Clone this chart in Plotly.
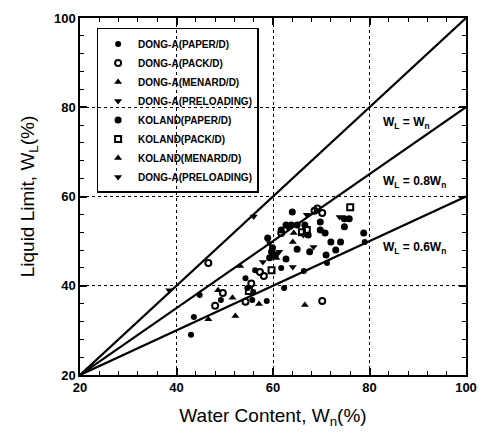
import plotly.graph_objects as go

# ---- data ----
series_names = [
    "DONG-A(PAPER/D)", "DONG-A(PACK/D)", "DONG-A(MENARD/D)", "DONG-A(PRELOADING)",
    "KOLAND(PAPER/D)", "KOLAND(PACK/D)", "KOLAND(MENARD/D)", "DONG-A(PRELOADING)",
]

dong_paper_x = [44.8, 49.2, 43.6, 43.0, 54.3, 54.7, 55.9, 55.7, 58.7, 56.3, 62.3, 66.4, 71.2, 79.0, 61.7]
dong_paper_y = [37.9, 36.8, 33.0, 29.0, 41.7, 39.5, 38.6, 36.8, 36.6, 43.5, 39.5, 43.3, 45.1, 49.8, 44.0]

dong_pack_x = [46.6, 49.6, 48.0, 54.3, 57.3, 58.1, 61.7, 68.6, 69.2, 70.2, 70.2, 55.5]
dong_pack_y = [45.1, 38.4, 35.5, 36.4, 43.1, 42.2, 51.8, 56.8, 57.3, 56.3, 36.6, 40.5]

dong_menard_x = [48.6, 51.6, 46.6, 52.2, 57.1]
dong_menard_y = [39.0, 37.3, 32.5, 33.2, 35.9]

dong_pre_x = [56.0, 38.5, 59.3, 57.9, 64.1]
dong_pre_y = [55.5, 39.0, 49.6, 45.3, 44.2]

koland_paper_x = [58.9, 59.9, 59.7, 60.5, 59.3, 61.7, 62.7, 63.8, 64.0, 65.0, 62.7, 65.0,
                  66.6, 67.3, 69.8, 69.8, 70.8, 67.6, 71.0, 72.0, 73.0, 74.0, 74.8, 75.8,
                  74.8, 78.8, 63.3]
koland_paper_y = [50.7, 48.5, 47.6, 46.9, 46.3, 52.5, 53.6, 53.6, 56.5, 48.2, 46.0, 53.6,
                  53.6, 51.4, 54.3, 52.5, 51.8, 47.6, 46.9, 49.8, 48.0, 49.8, 55.0, 55.0,
                  53.2, 51.8, 53.2]

koland_pack_x = [59.7, 66.0, 67.0, 76.0, 55.0]
koland_pack_y = [43.5, 52.0, 52.5, 57.6, 38.8]

koland_menard_x = [60.7, 64.3, 64.1, 66.6, 53.2]
koland_menard_y = [46.2, 51.8, 49.8, 35.7, 44.4]

dong_pre2_x = [67.0, 66.3, 68.4, 73.8, 61.3]
dong_pre2_y = [55.9, 51.4, 48.7, 55.4, 47.6]

# reference lines
line_x = [20, 100]
line_wn_y = [20, 100]
line_08_y = [20, 80]
line_06_y = [20, 60]

x_ticks = [20, 40, 60, 80, 100]
y_ticks = [20, 40, 60, 80, 100]

# ---- figure ----
fig = go.Figure()

for ly in (line_wn_y, line_08_y, line_06_y):
    fig.add_trace(go.Scatter(x=line_x, y=ly, mode="lines",
                             line=dict(color="black", width=2.2), showlegend=False,
                             hoverinfo="skip"))

marker_styles = [
    dict(symbol="circle", size=6, color="black"),
    dict(symbol="circle-open", size=6, color="black", line=dict(width=2, color="black")),
    dict(symbol="triangle-up", size=7, color="black"),
    dict(symbol="triangle-down", size=7, color="black"),
    dict(symbol="circle", size=7, color="black"),
    dict(symbol="square-open", size=6, color="black", line=dict(width=2, color="black")),
    dict(symbol="triangle-up", size=7, color="black"),
    dict(symbol="triangle-down", size=7, color="black"),
]
series_xy = [
    (dong_paper_x, dong_paper_y), (dong_pack_x, dong_pack_y),
    (dong_menard_x, dong_menard_y), (dong_pre_x, dong_pre_y),
    (koland_paper_x, koland_paper_y), (koland_pack_x, koland_pack_y),
    (koland_menard_x, koland_menard_y), (dong_pre2_x, dong_pre2_y),
]
for name, (xs, ys), mk in zip(series_names, series_xy, marker_styles):
    fig.add_trace(go.Scatter(x=xs, y=ys, mode="markers", name=name, marker=mk))

label_font = dict(family="Liberation Sans", size=12, color="black", weight="bold")
fig.add_annotation(x=82.3, y=76.5, text="W<sub>L</sub> = W<sub>n</sub>", showarrow=False,
                   xanchor="left", font=label_font)
fig.add_annotation(x=82.3, y=63.2, text="W<sub>L</sub> = 0.8W<sub>n</sub>", showarrow=False,
                   xanchor="left", font=label_font)
fig.add_annotation(x=82.3, y=48.5, text="W<sub>L</sub> = 0.6W<sub>n</sub>", showarrow=False,
                   xanchor="left", font=label_font)

axis_common = dict(
    range=[20, 100], tickvals=x_ticks, showline=True, mirror="ticks", linecolor="black",
    linewidth=1.5, ticks="inside", ticklen=7, tickwidth=1.5, tickcolor="black",
    showgrid=True, gridcolor="black", griddash="dot", gridwidth=1, zeroline=False,
    tickfont=dict(family="Liberation Sans", size=13, color="black", weight="bold"),
    minor=dict(dtick=4, ticks="inside", ticklen=4, tickwidth=1.2, tickcolor="black", showgrid=False),
)

title_font = dict(family="Liberation Sans", size=19, color="black")

fig.update_layout(
    width=487, height=438,
    margin=dict(l=80, r=10, t=18, b=63),
    paper_bgcolor="white", plot_bgcolor="white",
    xaxis=dict(axis_common, title=dict(text="Water Content, W<sub>n</sub>(%)",
                                       font=title_font, standoff=14)),
    yaxis=dict(axis_common, tickvals=y_ticks,
               title=dict(text="Liquid Limit, W<sub>L</sub>(%)",
                          font=title_font, standoff=14)),
    legend=dict(x=0.043, y=0.972, xanchor="left", yanchor="top",
                bgcolor="rgba(0,0,0,0)", bordercolor="black", borderwidth=1.5,
                font=dict(family="Liberation Sans", size=10, color="black", weight="bold"),
                itemwidth=30, tracegroupgap=0),
    showlegend=True,
)

fig.write_html("out.html")
